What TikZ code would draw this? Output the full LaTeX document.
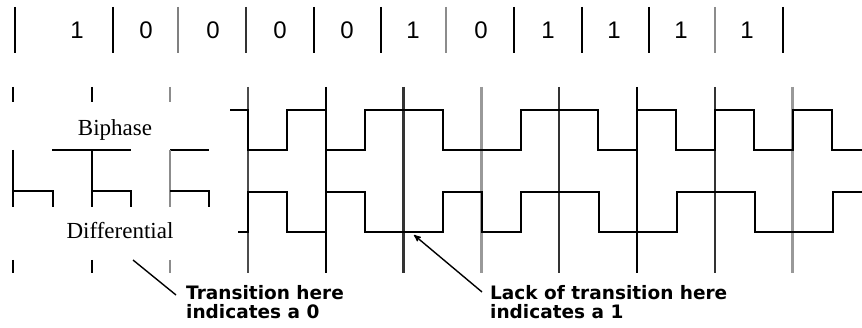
\documentclass[tikz,border=0pt]{standalone}
\usepackage{fontspec}
\usetikzlibrary{arrows}
\newfontfamily\bitfont{Liberation Sans}
\newfontfamily\rowfont{Liberation Serif}
\newfontfamily\notefont{DejaVu Sans}

\tikzset{
 wave/.style={black, line width=2.4pt},
 clk/.style={line width=2.4pt},
 bit/.style={font=\bitfont\fontsize{24}{24}\selectfont},
 rowname/.style={font=\rowfont\fontsize{23}{23}\selectfont, anchor=base},
 note/.style={font=\notefont\bfseries\fontsize{18.5}{19}\selectfont, align=left, anchor=north west, inner sep=0},
}

\begin{document}
\begin{tikzpicture}[x=1pt, y=-1pt]
\useasboundingbox (0,0) rectangle (862,328);
% bit cells
\foreach \x/\c in {15/black, 113/black, 178/black!50, 246/black!80, 314/black, 381/black, 446/black!45, 514/black, 582/black, 649/black, 715/black!45, 783/black}
 \draw[clk,\c] (\x,7) -- (\x,53);
\foreach \x/\b in {77/1, 146/0, 213/0, 280/0, 347/0, 413/1, 481/0, 548/1, 614/1, 681/1, 747/1}
 \node[bit] (bit\x) at (\x,30) {\b};

% clock lines
\foreach \i/\c in {0/black!70, 1/black, 2/black!80, 3/black!40, 4/black!80, 5/black, 6/black!80, 7/black!40}
 \draw[clk,\c] (248+77.8*\i,87) -- (248+77.8*\i,273);
\foreach \x/\c in {13/black, 92/black, 170/black!45} {
 \draw[clk,\c] (\x,87) -- (\x,102);
 \draw[clk,\c] (\x,260) -- (\x,273);
}

% left pieces
\draw[wave] (13,150) -- (13,207);
\draw[wave] (13,191) -| (53,207);
\draw[wave] (52,150) -- (131,150);
\draw[wave] (92,150) -- (92,207);
\draw[wave] (92,191) -| (131,207);
\draw[wave] (170,150) -- (209,150);
\draw[clk,black!45] (170,150) -- (170,207);
\draw[wave] (170,191) -| (209,207);

% biphase and differential
\draw[wave] (230,110) -| (248,150) -| (287,110) -| (326,150) -| (365,110) -| (443,150) -| (521,110) -| (598,150) -| (637,110) -| (676,150) -| (715,110) -| (754,150) -| (793,110) -| (832,150) -- (862,150);
\draw[wave] (238,232) -| (248,192) -| (287,232) -| (326,192) -| (365,232) -| (443,192) -| (482,232) -| (521,192) -| (599,232) -| (677,192) -| (755,232) -| (833,192) -- (862,192);

\node[rowname] (biphase) at (115,136) {Biphase};
\node[rowname] (diff) at (120,239) {Differential};

% notes
\node[note] (zeronote) at (186,285) {Transition here\\indicates a 0};
\node[note] (onenote) at (490,285) {Lack of transition here\\indicates a 1};
\coordinate (zerotip) at (133,260);
\coordinate (onetip) at (414,235);
\draw[line width=1.4pt] (zerotip) -- ([xshift=-10pt,yshift=-10pt]zeronote.north west);
\draw[line width=1.4pt, ->, >=stealth'] ([xshift=-8pt,yshift=-7pt]onenote.north west) -- (onetip);
\end{tikzpicture}
\end{document}
